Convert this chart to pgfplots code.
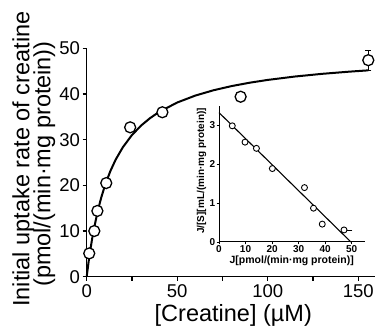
\documentclass[border=0pt]{standalone}
\usepackage{fontspec}
\setmainfont{Liberation Sans}
\usepackage{pgfplots}
\pgfplotsset{compat=1.18}
\begin{document}
\begin{tikzpicture}
\begin{axis}[
  at={(0pt,0pt)}, anchor=south west,
  scale only axis, width=288.3pt, height=228.4pt,
  xmin=0, xmax=159.2, ymin=0, ymax=50,
  axis x line=bottom, axis y line=left,
  axis line style={-, line width=1.5pt},
  xtick={0,50,100,150}, minor xtick={25,75,125},
  ytick={0,10,20,30,40,50},
  tick align=outside, major tick length=4pt, minor tick length=4pt,
  every tick/.style={line width=1.2pt, black},
  /pgf/number format/assume math mode=true,
  tick label style={font=\fontsize{18.5}{20}\selectfont},
  xticklabel style={inner sep=0pt, yshift=-4pt},
  yticklabel style={inner sep=0pt, xshift=-2.5pt},
  clip=false,
]
\addplot[line width=2pt, black] coordinates {
(0,0) (1,3.113) (2,5.858) (3,8.296) (4,10.476) (6,14.211) (8,17.293) (10,19.880)
(13,23.065) (16,25.631) (20,28.367) (25,31.015) (30,33.073) (35,34.719) (40,36.066)
(50,38.136) (60,39.653) (70,40.813) (80,41.728) (90,42.469) (100,43.081)
(115,43.822) (130,44.410) (145,44.888) (155.5,45.172)};
\addplot[draw=none, mark=none, black, error bars/.cd, y dir=both, y explicit,
  error bar style={line width=1.2pt},
  error mark options={rotate=90, mark size=3pt, line width=1.2pt}]
  coordinates {(155.5,47.4) +- (0,2.2)};
\addplot[only marks, mark=*, mark size=5.5pt,
  mark options={fill=white, draw=black, line width=1.3pt}] coordinates {
(1.4,5.1) (4.2,10.0) (5.9,14.4) (10.8,20.5) (24,32.7) (41.8,36.0) (85,39.4) (155.5,47.4)};
\end{axis}
\begin{axis}[
  at={(132.3pt,34.7pt)}, anchor=south west,
  scale only axis, width=146pt, height=136pt,
  xmin=0, xmax=55, ymin=0, ymax=3.5,
  axis x line=bottom, axis y line=left,
  axis line style={-, line width=1pt},
  xtick={0,10,20,30,40,50}, ytick={0,1,2,3},
  tick align=outside, major tick length=2.5pt,
  every tick/.style={line width=0.8pt, black},
  /pgf/number format/assume math mode=true,
  tick label style={font=\fontsize{10}{11}\selectfont\bfseries},
  xticklabel style={inner sep=0pt, yshift=-1pt},
  yticklabel style={inner sep=0pt, xshift=-1pt},
  clip=false,
]
\addplot[line width=1.1pt, black] coordinates {(0,3.33) (49.7,0)};
\addplot[draw=none, mark=none, black, error bars/.cd, x dir=plus, x explicit,
  error bar style={line width=0.9pt},
  error mark options={mark size=2pt, line width=0.9pt}]
  coordinates {(47.1,0.31) +- (2.4,0)};
\addplot[only marks, mark=*, mark size=3pt,
  mark options={fill=white, draw=black, line width=0.9pt}] coordinates {
(5.0,2.99) (9.8,2.57) (14.1,2.41) (20.1,1.89) (32.2,1.40) (35.6,0.87) (38.9,0.46) (47.1,0.31)};
\end{axis}
\node[anchor=base west, rotate=90, font=\fontsize{23.5}{25}\selectfont, inner sep=0pt]
  at (-57.2pt,-30.3pt) {Initial uptake rate of creatine};
\node[anchor=base west, rotate=90, font=\fontsize{23.5}{25}\selectfont, inner sep=0pt]
  at (-36.2pt,-10.3pt) {(pmol/(min·mg protein))};
\node[anchor=base, font=\fontsize{23.5}{25}\selectfont, inner sep=0pt]
  at (146.6pt,-44.8pt) {[Creatine] (µM)};
\node[anchor=base, font=\fontsize{10.5}{12}\selectfont\bfseries, inner sep=0pt]
  at (205pt,12.7pt) {J[pmol/(min·mg protein)]};
\node[anchor=base, rotate=90, font=\fontsize{10}{12}\selectfont\bfseries, inner sep=0pt]
  at (117.3pt,105.7pt) {J/[S][mL/(min·mg protein)]};
\pgfresetboundingbox
\path (-86.7pt,-49.3pt) rectangle (288.3pt,276.7pt);
\end{tikzpicture}
\end{document}
